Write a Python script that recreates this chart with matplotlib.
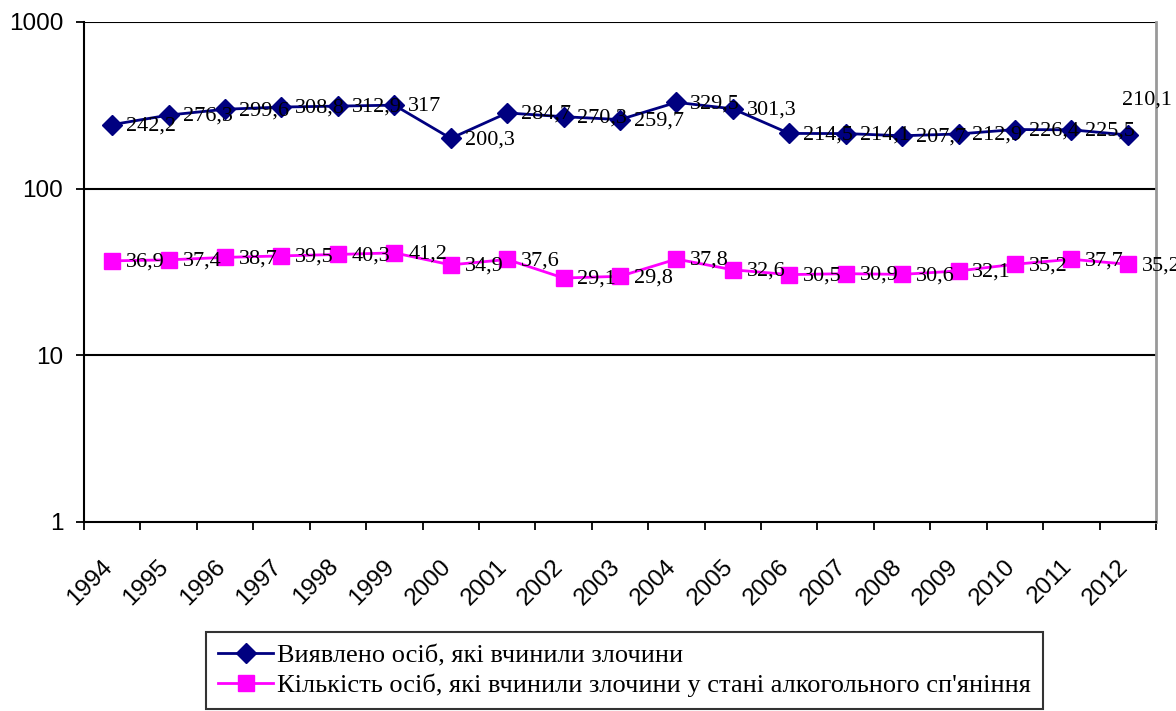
import numpy as np
import matplotlib.pyplot as plt
import matplotlib.transforms as mtransforms

roky = [str(r) for r in range(1994, 2013)]
vyjavleno = [242.2, 276.3, 299.6, 308.8, 312.9, 317, 200.3, 284.7, 270.3, 259.7,
             329.5, 301.3, 214.5, 214.1, 207.7, 212.9, 226.4, 225.5, 210.1]
alkohol = [36.9, 37.4, 38.7, 39.5, 40.3, 41.2, 34.9, 37.6, 29.1, 29.8,
           37.8, 32.6, 30.5, 30.9, 30.6, 32.1, 35.2, 37.7, 35.2]

nazva1 = 'Виявлено осіб, які вчинили злочини'
nazva2 = "Кількість осіб, які вчинили злочини у стані алкогольного сп'яніння"

fig = plt.figure(figsize=(11.76, 7.11), dpi=100)
ax = fig.add_axes([84 / 1176, 1 - 522 / 711, 1072 / 1176, 500 / 711])

x = np.arange(len(roky))
ax.plot(x, vyjavleno, color='#000080', marker='D', markersize=10, lw=2, label=nazva1)
ax.plot(x, alkohol, color='#FF00FF', marker='s', markersize=11, lw=2, label=nazva2)

def fmt(v):
    return ('%g' % v).replace('.', ',')

for i, v in enumerate(vyjavleno):
    if i == len(vyjavleno) - 1:
        off = (-4, 25)
    else:
        off = (10, -1)
    ax.annotate(fmt(v), (x[i], v), xytext=off, textcoords='offset points',
                fontsize=16, family='Liberation Serif', va='center', ha='left')
for i, v in enumerate(alkohol):
    ax.annotate(fmt(v), (x[i], v), xytext=(10, -1), textcoords='offset points',
                fontsize=16, family='Liberation Serif', va='center', ha='left')

ax.set_yscale('log')
ax.set_ylim(1, 1000)
ax.set_xlim(-0.5, len(roky) - 0.5)
ax.set_yticks([1, 10, 100, 1000])
ax.set_yticklabels(['1', '10', '100', '1000'])
ax.yaxis.set_minor_locator(plt.NullLocator())
for yv in [10, 100, 1000]:
    ax.axhline(yv, color='black', lw=1.5, zorder=0)

ax.set_xticks(x)
ax.set_xticklabels(roky, rotation=45, ha='right', va='top', rotation_mode='anchor')
ax.set_xticks(np.arange(-0.5, len(roky)), minor=True)
ax.tick_params(axis='x', which='major', length=0, labelsize=17.5, pad=24)
ax.tick_params(axis='x', which='minor', length=6, width=1.3, direction='out')
ax.tick_params(axis='y', length=6, width=1.3, labelsize=17.5, direction='out', pad=9)
zsuv = mtransforms.ScaledTranslation(-11 / 100, 0, fig.dpi_scale_trans)
for lbl in ax.get_xticklabels():
    lbl.set_family('Liberation Sans')
    lbl.set_transform(lbl.get_transform() + zsuv)
for lbl in ax.get_yticklabels():
    lbl.set_family('Liberation Sans')

ax.spines['left'].set_linewidth(1.5)
ax.spines['bottom'].set_linewidth(1.5)
ax.spines['top'].set_visible(False)
ax.spines['right'].set_color('#999999')
ax.spines['right'].set_linewidth(2)

leg = fig.legend(loc='upper left', bbox_to_anchor=(206 / 1176, 1 - 632 / 711),
                 prop={'family': 'Liberation Serif', 'size': 19}, frameon=True,
                 fancybox=False, edgecolor='black', handlelength=2.1,
                 borderaxespad=0, labelspacing=0.25, handletextpad=0.15, borderpad=0.45)
leg.get_frame().set_linewidth(1.5)

fig.savefig('out.png', dpi=100)
